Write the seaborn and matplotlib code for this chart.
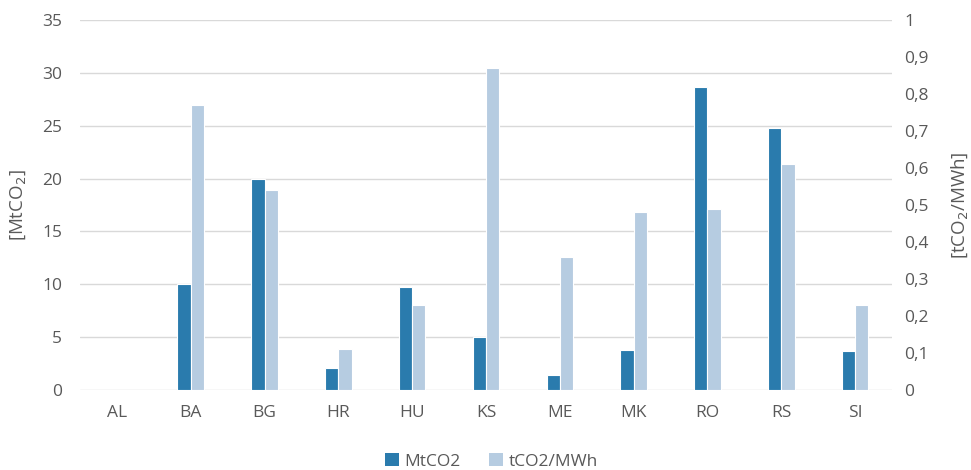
import matplotlib
matplotlib.use("Agg")
import matplotlib.pyplot as plt
import seaborn as sns
import pandas as pd
import numpy as np
from matplotlib.patches import Patch
from matplotlib.ticker import FuncFormatter

countries = ["AL", "BA", "BG", "HR", "HU", "KS", "ME", "MK", "RO", "RS", "SI"]
mtco2 = [0, 10.0, 20.0, 2.1, 9.7, 5.0, 1.4, 3.8, 28.7, 24.8, 3.7]
tco2_mwh = [0, 0.77, 0.54, 0.11, 0.23, 0.87, 0.36, 0.48, 0.49, 0.61, 0.23]
series = ["MtCO2", "tCO2/MWh"]
colors = {"MtCO2": "#2A7BAD", "tCO2/MWh": "#B6CCE1"}

sns.set_theme(style="white")
plt.rcParams["font.family"] = ["Open Sans", "DejaVu Sans"]
txt = "#595959"
grid = "#D9D9D9"

n = len(countries)
df = pd.DataFrame({
    "country": countries * 2,
    "series": [series[0]] * n + [series[1]] * n,
    "left": mtco2 + [np.nan] * n,
    "right": [np.nan] * n + tco2_mwh,
})

fig = plt.figure(figsize=(9.71, 4.70), dpi=100)
ax1 = fig.add_axes([80 / 971, 80 / 470, 812 / 971, 370 / 470])
ax2 = ax1.twinx()

common = dict(x="country", hue="series", hue_order=series, palette=colors,
              order=countries, width=0.36, dodge=True, errorbar=None,
              edgecolor="white", linewidth=0.8, legend=False, saturation=1)
sns.barplot(data=df, y="left", ax=ax1, **common)
sns.barplot(data=df, y="right", ax=ax2, **common)

ax1.set_ylim(0, 35)
ax1.set_yticks(np.arange(0, 36, 5))
ax2.set_ylim(0, 1)
ax2.set_yticks(np.arange(0, 1.01, 0.1))
ax1.set_xlim(-0.5, n - 0.5)

def comma(v, pos):
    s = f"{v:.1f}".replace(".", ",")
    if s.endswith(",0"):
        s = s[:-2]
    return s
ax2.yaxis.set_major_formatter(FuncFormatter(comma))

ax1.yaxis.grid(True, color=grid, linewidth=1)
ax1.set_axisbelow(True)
for ax in (ax1, ax2):
    for s in ax.spines.values():
        s.set_visible(False)
    ax.tick_params(length=0, colors=txt, labelsize=12.5)
ax1.tick_params(axis="y", pad=13)
ax2.tick_params(axis="y", pad=9)
ax1.tick_params(axis="x", pad=11)

ax1.set_xlabel("")
ax1.set_ylabel("[MtCO$_2$]", color=txt, fontsize=13.5)
ax2.set_ylabel("[tCO$_2$/MWh]", color=txt, fontsize=13.5)
for ax in (ax1, ax2):
    ax.yaxis.label.set_va("center")
    ax.yaxis.label.set_ha("center")
ax1.yaxis.set_label_coords((18 - 80) / 812, 0.5)
ax2.yaxis.set_label_coords((960 - 80) / 812, 0.5)

handles = [Patch(facecolor=colors[s], edgecolor="none") for s in series]
fig.legend(handles, series, loc="center", bbox_to_anchor=(0.506, 0.018),
           ncol=2, frameon=False, fontsize=12.5, labelcolor=txt,
           handlelength=0.8, handleheight=0.8, handletextpad=0.35,
           columnspacing=1.6)

fig.savefig("out.png", dpi=100)
